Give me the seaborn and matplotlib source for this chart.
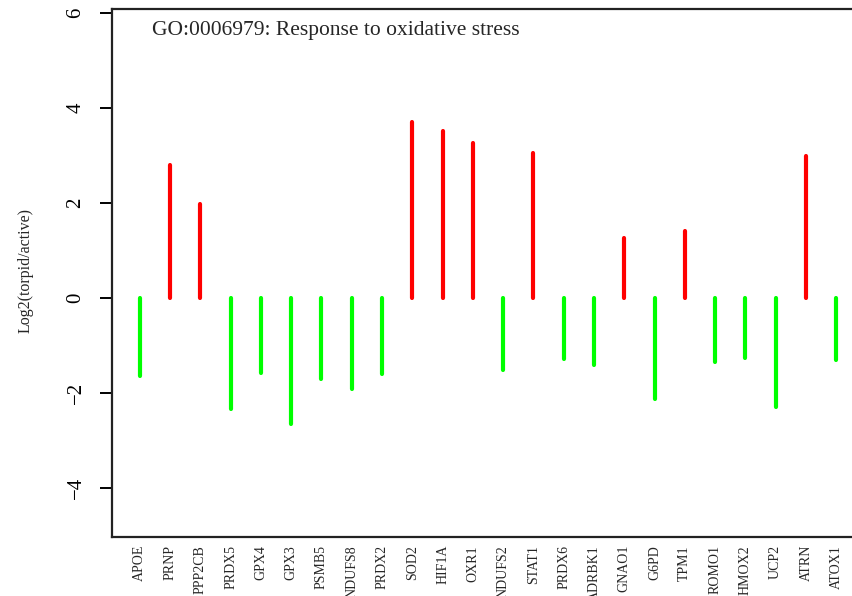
import numpy as np
import pandas as pd
import matplotlib
matplotlib.use("Agg")
import matplotlib.pyplot as plt
import seaborn as sns

genes = ["APOE", "PRNP", "PPP2CB", "PRDX5", "GPX4", "GPX3", "PSMB5", "NDUFS8",
         "PRDX2", "SOD2", "HIF1A", "OXR1", "NDUFS2", "STAT1", "PRDX6", "ADRBK1",
         "GNAO1", "G6PD", "TPM1", "ROMO1", "HMOX2", "UCP2", "ATRN", "ATOX1"]
log2_ratio = [-1.64, 2.81, 1.98, -2.34, -1.57, -2.65, -1.71, -1.91,
              -1.59, 3.71, 3.51, 3.26, -1.52, 3.05, -1.28, -1.40,
              1.26, -2.12, 1.42, -1.35, -1.25, -2.28, 3.00, -1.31]
y_ticks = [-4, -2, 0, 2, 4, 6]
title = "GO:0006979: Response to oxidative stress"

df = pd.DataFrame({"gene": genes, "log2": log2_ratio})
df["pos"] = np.arange(1, len(df) + 1)
df["colour"] = np.where(df["log2"] > 0, "#ff0000", "#00ff00")

sns.set_theme(style="ticks")
serif = ["Liberation Serif", "DejaVu Serif"]
plt.rcParams["font.family"] = serif

W, H = 852, 596
fig = plt.figure(figsize=(W / 100, H / 100), dpi=100)
left, right, top, bottom = 112, 864, 9.3, 536.7
ax = fig.add_axes([left / W, 1 - bottom / H, (right - left) / W, (bottom - top) / H])

# zero baseline bars, red for up-regulated and green for down-regulated genes
ax.vlines(df["pos"], 0, df["log2"], colors=df["colour"], linewidth=3,
          capstyle="round")

ax.set_xlim(0.08, len(df) + 0.92)
ax.set_ylim(-5.02, 6.08)
ax.set_xticks(df["pos"])
ax.set_xticklabels(df["gene"], rotation=90, fontsize=10, family=serif)
ax.tick_params(axis="x", length=0, pad=6)
ax.set_yticks(y_ticks)
ax.set_yticklabels([str(t).replace("-", "\u2212") for t in y_ticks],
                   rotation=90, va="center", fontsize=15, family=serif)
ax.tick_params(axis="y", length=9, width=1.4, pad=10, colors="black")

for s in ax.spines.values():
    s.set_linewidth(1.6)
    s.set_color("#222222")

ax.set_ylabel("Log2(torpid/active)", fontsize=11.5, family=serif)
ax.yaxis.label.set_va("center")
ax.yaxis.set_label_coords((26 - left) / (right - left), 0.504)

ax.text((152 - left) / (right - left), (bottom - 30) / (bottom - top), title,
        transform=ax.transAxes, ha="left", va="center", fontsize=15.5,
        family=serif)

fig.savefig("out.png", dpi=100)
